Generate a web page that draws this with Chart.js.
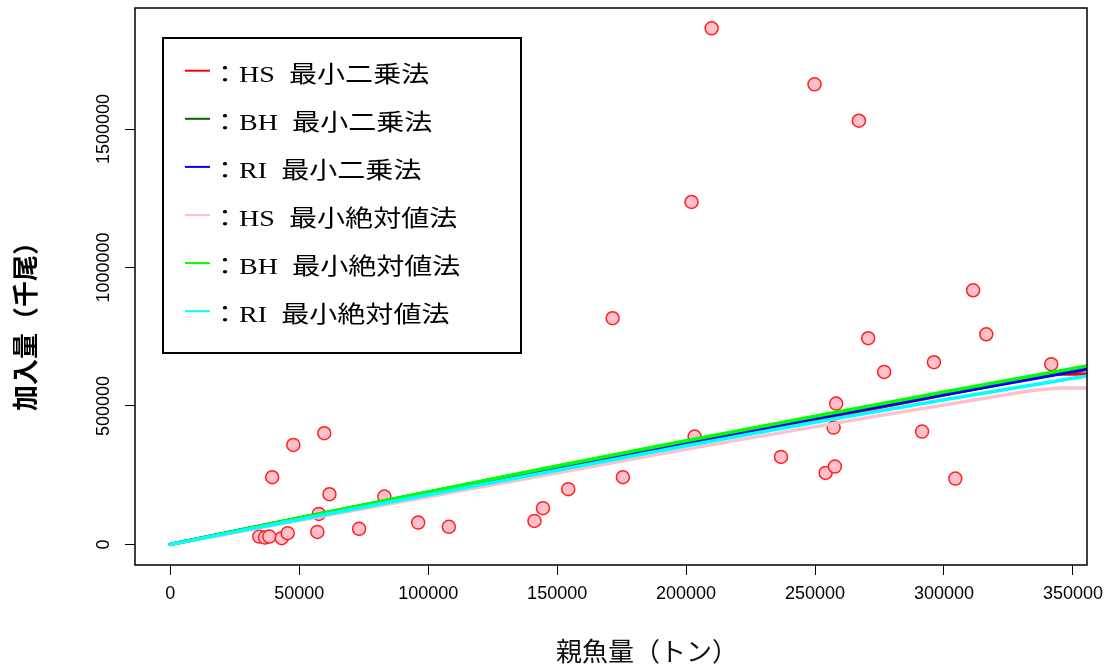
<!DOCTYPE html>
<html lang="ja">
<head>
<meta charset="utf-8">
<title>親魚量と加入量</title>
<script src="https://cdn.jsdelivr.net/npm/chart.js@4.4.1/dist/chart.umd.min.js"></script>
<style>
  html, body { margin: 0; padding: 0; background: #ffffff; }
  canvas { display: block; }
</style>
</head>
<body>
<canvas id="srChart" width="1115" height="668"></canvas>
<script>
// 観測値：親魚量（トン）と加入量（千尾）
const spawnerTons = [
  34500, 36700, 38400, 39500, 43200, 45500, 47700, 57000, 57600, 59700,
  61700, 73200, 83000, 96100, 108000, 141200, 144500, 154300, 171500, 175500,
  202100, 203300, 209900, 236800, 249800, 254100, 257200, 257700, 258200, 267000,
  270600, 276800, 291500, 296100, 304400, 311300, 316400, 341600
];
const recruitsK = [
  28200, 24500, 28200, 242600, 22400, 40400, 359200, 45100, 110100, 401400,
  181200, 56000, 172600, 78700, 63200, 84800, 130700, 199300, 816600, 242600,
  1236500, 389200, 1863500, 315900, 1661400, 258100, 421700, 280900, 508300, 1530000,
  744400, 622700, 407200, 657800, 237500, 917700, 758800, 650500
];

// 再生産関係の当てはめ曲線（BH・RI は共通の親魚量で読み取り）
const fitX   = [0, 50000, 100000, 150000, 200000, 250000, 300000, 350000, 356000];
const bhLsY  = [0, 95000, 188500, 281000, 371500, 460000, 546000, 630000, 640000];
const riLsY  = [0, 93500, 185000, 275000, 367000, 455000, 541000, 624000, 633000];
const bhLadY = [0, 95500, 189500, 283000, 374000, 463000, 550000, 635000, 645000];
const riLadY = [0, 90000, 179000, 268000, 356000, 441000, 522000, 600000, 609000];
// ホッケースティック（折れ点以降は一定）
const hsLsX  = [0, 342000, 356000];
const hsLsY  = [0, 615000, 615000];
const hsLadX = [0, 205000, 275000, 334000, 345000, 356000];
const hsLadY = [0, 352000, 465000, 556000, 565000, 565000];

const fitLabels = ['HS  最小二乗法', 'BH  最小二乗法', 'RI  最小二乗法',
                   'HS  最小絶対値法', 'BH  最小絶対値法', 'RI  最小絶対値法'];

const xTicks = [0, 50000, 100000, 150000, 200000, 250000, 300000, 350000];
const yTicks = [0, 500000, 1000000, 1500000];
const xTitle = '親魚量（トン）';
const yTitle = '加入量（千尾）';

// 軸の表示範囲
const xRange = [-13700, 355460];
const yRange = [-74500, 1937000];

// 描画スタイル
const lineColors = ['#FF0000', '#006400', '#0000FF', '#FFC0CB', '#00FF00', '#00FFFF'];
const TICK_FONT = { family: '"Liberation Sans", Arial, sans-serif', size: 18 };

const toPoints = (xs, ys) => xs.map((x, i) => ({ x: x, y: ys[i] }));

const curveSeries = [
  toPoints(hsLsX, hsLsY),
  toPoints(fitX, bhLsY),
  toPoints(fitX, riLsY),
  toPoints(hsLadX, hsLadY),
  toPoints(fitX, bhLadY),
  toPoints(fitX, riLadY)
];

const lineDatasets = curveSeries.map((pts, i) => ({
  label: fitLabels[i],
  data: pts,
  showLine: true,
  borderColor: lineColors[i],
  backgroundColor: lineColors[i],
  borderWidth: 3.5,
  borderCapStyle: 'round',
  pointRadius: 0,
  pointHoverRadius: 0,
  tension: 0,
  fill: false,
  clip: 0,
  order: 6 - i          // 後の系列ほど上に重ねる
}));

const obsDataset = {
  label: '観測値',
  data: toPoints(spawnerTons, recruitsK),
  showLine: false,
  pointRadius: 6.5,
  pointHoverRadius: 6.5,
  pointBorderWidth: 1.5,
  pointBackgroundColor: '#FFC0CB',
  pointBorderColor: '#FF2020',
  order: 10
};

// 枠・凡例・軸タイトル
const framePlugin = {
  id: 'frameLegendTitles',
  afterDatasetsDraw(chart) {
    const { ctx, chartArea: a } = chart;
    ctx.save();
    ctx.strokeStyle = '#000';
    ctx.lineWidth = 1.5;
    ctx.strokeRect(a.left, a.top, a.right - a.left, a.bottom - a.top);
    ctx.restore();
  },
  afterDraw(chart) {
    const ctx = chart.ctx;
    ctx.save();

    // 凡例
    const box = { left: 163, top: 38, right: 521, bottom: 353 };
    ctx.fillStyle = '#fff';
    ctx.fillRect(box.left, box.top, box.right - box.left, box.bottom - box.top);
    ctx.strokeStyle = '#000';
    ctx.lineWidth = 2;
    ctx.strokeRect(box.left, box.top, box.right - box.left, box.bottom - box.top);

    const legendSets = chart.data.datasets.filter(d => d.showLine);
    legendSets.forEach((ds, i) => {
      const yLine = 70.7 + i * 48.1;
      ctx.strokeStyle = ds.borderColor;
      ctx.lineWidth = 2;
      ctx.beginPath();
      ctx.moveTo(185, yLine);
      ctx.lineTo(210, yLine);
      ctx.stroke();

      ctx.save();
      ctx.translate(211, yLine + 11);
      ctx.scale(1.22, 1);
      ctx.fillStyle = '#000';
      ctx.font = '23px "Liberation Serif", "Noto Sans CJK JP", serif';
      ctx.textAlign = 'left';
      ctx.textBaseline = 'alphabetic';
      ctx.fillText('：' + ds.label, 0, 0);
      ctx.restore();
    });

    // x 軸タイトル
    ctx.fillStyle = '#111';
    ctx.font = '26px "Noto Sans CJK JP", sans-serif';
    ctx.textAlign = 'center';
    ctx.textBaseline = 'middle';
    ctx.fillText(xTitle, 647, 651);

    // y 軸タイトル
    ctx.save();
    ctx.translate(25, 320);
    ctx.rotate(-Math.PI / 2);
    ctx.font = 'bold 26px "Noto Sans CJK JP", sans-serif';
    ctx.fillStyle = '#000';
    ctx.textAlign = 'center';
    ctx.textBaseline = 'middle';
    ctx.fillText(yTitle, 0, 0);
    ctx.restore();

    ctx.restore();
  }
};

new Chart(document.getElementById('srChart'), {
  type: 'scatter',
  data: { datasets: [obsDataset].concat(lineDatasets) },
  options: {
    responsive: false,
    animation: false,
    devicePixelRatio: 1,
    events: [],
    layout: { padding: { left: 0, right: 28, top: 8, bottom: 0 } },
    plugins: {
      legend: { display: false },
      tooltip: { enabled: false },
      title: { display: false }
    },
    scales: {
      x: {
        type: 'linear',
        min: xRange[0],
        max: xRange[1],
        afterBuildTicks: s => { s.ticks = xTicks.map(v => ({ value: v })); },
        afterFit: s => { s.height = 103; s.paddingLeft = 0; s.paddingRight = 0; },
        grid: { display: true, drawOnChartArea: false, drawTicks: true, tickLength: 10, color: '#000', lineWidth: 1 },
        border: { display: false },
        ticks: {
          color: '#000',
          font: TICK_FONT,
          padding: 8,
          maxRotation: 0,
          minRotation: 0,
          autoSkip: false,
          callback: v => String(v)
        },
        title: { display: false }
      },
      y: {
        type: 'linear',
        min: yRange[0],
        max: yRange[1],
        afterBuildTicks: s => { s.ticks = yTicks.map(v => ({ value: v })); },
        afterFit: s => { s.width = 135; s.paddingTop = 0; s.paddingBottom = 0; },
        grid: { display: true, drawOnChartArea: false, drawTicks: true, tickLength: 10, color: '#000', lineWidth: 1 },
        border: { display: false },
        ticks: {
          color: '#000',
          font: TICK_FONT,
          minRotation: 90,
          maxRotation: 90,
          crossAlign: 'center',
          padding: -14.5,
          autoSkip: false,
          callback: v => String(v)
        },
        title: { display: false }
      }
    }
  },
  plugins: [framePlugin]
});
</script>
</body>
</html>
